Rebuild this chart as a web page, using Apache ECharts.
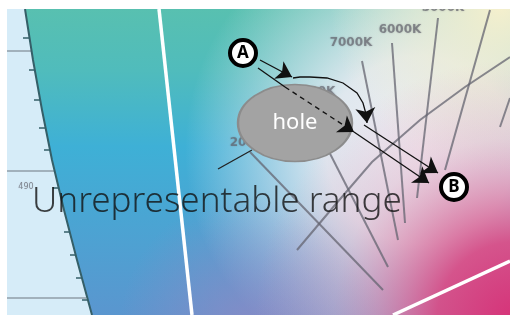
<!DOCTYPE html>
<html>
<head>
<meta charset="utf-8">
<script src="https://cdn.jsdelivr.net/npm/echarts@6/dist/echarts.min.js"></script>
<style>html,body{margin:0;padding:0;background:#fff;}#c{width:510px;height:315px;}</style>
</head>
<body>
<div id="c"></div>
<script>
// ---- data (picture coordinates, y grows downward) ----
const locus = [[25,9],[33,60],[42,110],[52,160],[64,210],[77,260],[92,315]];
const locusTicks = [[[29,38],[23,38]],[[35,70],[29,70]],[[40,100],[34,100]],[[45,128],[39,128]],[[50,150],[44,150]],
                    [[59,188],[53,188]],[[70,232],[64,232]],[[76,255],[70,255]],[[82,278],[76,278]],[[88,300],[82,300]]];
const stripLines = [[[7,51],[31,51]],[[7,171],[55,171]],[[7,298],[86,298]]];
const stripPoly = [[7,9],[510,9],[510,315],[7,315]];
const gamutPoly = [[25,9],[33,60],[42,110],[52,160],[64,210],[77,260],[92,315],[510,315],[510,9]];
const whiteLines = [[[159,9],[192,315]],[[393,315],[510,261]]];
const isoLines = [[[250,152],[383,290]],[[322,138],[388,267]],[[362,61],[398,240]],[[392,43],[405,223]],
                  [[438,18],[417,198]],[[490,10],[445,170]],[[510,98],[500,127]]];
const planckian = [[297,250],[335,205],[372,162],[420,120],[465,87],[510,57]];
const tempLabels = [{name:'7000K', value:[351,43]},{name:'6000K', value:[400,30]},{name:'5000K', value:[443,8]},
                    {name:'3000K', value:[314,92]},{name:'2000K', value:[251,143]}];
const smallLabels = [{name:'490', value:[26,187]}];
const leader = [[218,169],[252,150]];
const hole = {name:'hole', value:[295,123]};
const points = [{name:'A', value:[243,53]},{name:'B', value:[454,187]}];
const arrowA1 = [[260,60],[292,77]];
const arrowStart = [[258,68],[285,87]];
const arrowDashed = [[285,87],[354,132]];
const arrowDirect = [[354,132],[429,183]];
const arrowCurve = [[293,78],[300,77],[310,77],[327,78],[343,83],[357,93],[363,103],[366,114]];
const arrowCurveTip = [[366,114],[367,123]];
const arrowDetour = [[364,125],[438,173]];
const mainText = {name:'Unrepresentable range', value:[32,202]};
const topBand = [[0,0],[510,0],[510,9],[0,9]];
const leftBand = [[0,0],[7,0],[7,315],[0,315]];

// ---- chart ----
const chart = echarts.init(document.getElementById('c'), null, {renderer:'canvas'});
function segs(list, color, width, extra){
  return Object.assign({type:'lines', coordinateSystem:'cartesian2d', polyline:true, silent:true,
    lineStyle:{color:color, width:width, opacity:1},
    data:list.map(c=>({coords:c}))}, extra||{});
}
function arrow(coords, dashed, z){
  return {type:'lines', coordinateSystem:'cartesian2d', polyline:false, silent:true, z:z||20,
    symbol:['none','arrow'], symbolSize:[11,15],
    itemStyle:{color:'#111', opacity:1},
    lineStyle:{color:'#111', width:1.3, type: dashed?[5,4]:'solid', opacity:1},
    data:[{coords:coords}]};
}
function plain(coords, z){
  return {type:'lines', coordinateSystem:'cartesian2d', polyline:true, silent:true, z:z||20,
    lineStyle:{color:'#111', width:1.3, opacity:1}, data:[{coords:coords}]};
}
const option = {
  animation:false,
  grid:{left:0,right:0,top:0,bottom:0},
  xAxis:{type:'value', min:0, max:510, show:false},
  yAxis:{type:'value', min:0, max:315, inverse:true, show:false},
  series:[
    {type:'custom', coordinateSystem:'cartesian2d', silent:true, z:1, data:[[0,0]],
     renderItem:function(params, api){
       const c = p=>api.coord(p);
       const R = (cx,cy,r,stops)=>{const o=c([cx,cy]); return new echarts.graphic.RadialGradient(o[0],o[1],r,stops,true);};
       const strip = stripPoly.map(c), gam = gamutPoly.map(c);
       const lin = new echarts.graphic.LinearGradient(0,c([0,9])[1],0,c([0,315])[1],[
         {offset:0,color:'#58c0b0'},{offset:0.2,color:'#50bcbc'},{offset:0.45,color:'#3eb0d6'},{offset:1,color:'#5a96cf'}],true);
       const layers = [
         R(420,150,235,[{offset:0,color:'rgba(240,238,244,1)'},{offset:0.4,color:'rgba(236,236,242,0.92)'},{offset:1,color:'rgba(236,236,242,0)'}]),
         R(500,5,170,[{offset:0,color:'rgba(246,240,205,1)'},{offset:0.5,color:'rgba(240,238,210,0.6)'},{offset:1,color:'rgba(240,238,210,0)'}]),
         R(250,325,130,[{offset:0,color:'rgba(150,135,195,0.7)'},{offset:1,color:'rgba(150,135,195,0)'}]),
         R(515,320,260,[{offset:0,color:'rgba(215,50,120,1)'},{offset:0.3,color:'rgba(215,70,130,0.9)'},{offset:0.7,color:'rgba(222,150,180,0.3)'},{offset:1,color:'rgba(222,150,180,0)'}])
       ];
       const children = [{type:'polygon', shape:{points:strip}, style:{fill:'#d6ecf8'}},
                         {type:'polygon', shape:{points:gam}, style:{fill:lin}}];
       layers.forEach(g=>children.push({type:'polygon', shape:{points:gam}, style:{fill:g}}));
       return {type:'group', children:children};
     }},
    segs(stripLines,'#8f9ea8',1.5,{z:2}),
    segs([locus],'#355f68',2,{z:3}),
    segs(locusTicks,'#355f68',1.5,{z:3}),
    segs(whiteLines,'#ffffff',3.5,{z:4}),
    segs(isoLines,'rgba(100,100,112,0.75)',2,{z:5}),
    segs([planckian],'rgba(100,100,112,0.75)',2,{z:5}),
    {type:'scatter', silent:true, z:6, symbolSize:0, data:tempLabels,
     label:{show:true, position:'inside', formatter:'{b}', color:'rgba(95,95,105,0.8)', fontSize:12, fontWeight:'bold',
            fontFamily:'DejaVu Sans', textShadowColor:'rgba(95,95,105,0.6)', textShadowBlur:2}},
    {type:'scatter', silent:true, z:6, symbolSize:0, data:smallLabels,
     label:{show:true, position:'inside', formatter:'{b}', color:'rgba(95,95,105,0.8)', fontSize:8,
            fontFamily:'DejaVu Sans', textShadowColor:'rgba(95,95,105,0.5)', textShadowBlur:1}},
    segs([leader],'#222',1.3,{z:7}),
    {type:'scatter', silent:true, z:10, symbol:'circle', symbolSize:[114,77], data:[hole],
     itemStyle:{color:'#a3a3a3', borderColor:'#8c8c8c', borderWidth:2, opacity:1},
     label:{show:true, position:'inside', formatter:'{b}', color:'#ffffff', fontSize:22, fontFamily:'Noto Sans'}},
    arrow(arrowA1,false),
    plain(arrowStart),
    arrow(arrowDashed,true),
    arrow(arrowDirect,false),
    plain(arrowCurve),
    arrow(arrowCurveTip,false),
    arrow(arrowDetour,false),
    {type:'scatter', silent:true, z:30, symbolSize:0, data:[mainText],
     label:{show:true, position:'inside', align:'left', verticalAlign:'middle', formatter:'{b}', color:'#121212',
            fontSize:35, fontWeight:300, fontFamily:'Noto Sans'}},
    {type:'scatter', silent:true, z:31, symbol:'circle', symbolSize:26, data:points,
     itemStyle:{color:'#ffffff', borderColor:'#000000', borderWidth:4, opacity:1},
     label:{show:true, position:'inside', formatter:'{b}', color:'#000', fontSize:17, fontWeight:'bold', fontFamily:'Noto Sans'}},
    {type:'custom', coordinateSystem:'cartesian2d', silent:true, z:40, data:[[0,0]],
     renderItem:function(params, api){
       return {type:'group', children:[
         {type:'polygon', shape:{points:topBand.map(p=>api.coord(p))}, style:{fill:'#ffffff'}},
         {type:'polygon', shape:{points:leftBand.map(p=>api.coord(p))}, style:{fill:'#ffffff'}}]};
     }}
  ]
};
chart.setOption(option);
</script>
</body>
</html>
